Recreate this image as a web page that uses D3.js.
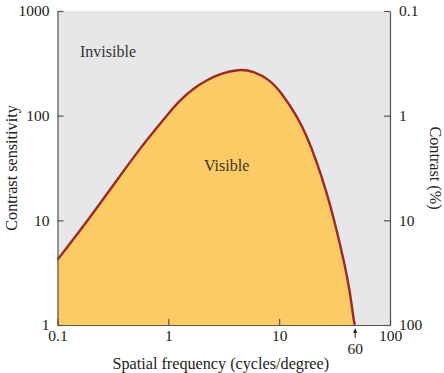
<!DOCTYPE html>
<html>
<head>
<meta charset="utf-8">
<script src="https://cdn.jsdelivr.net/npm/d3@7"></script>
<style>
  body { margin: 0; background: #fff; }
  svg text { font-family: "Liberation Serif", "DejaVu Serif", serif; }
  .axis path, .axis line { stroke: #555; stroke-width: 1.2px; }
  .axis text { font-size: 15.5px; fill: #222; }
</style>
</head>
<body>
<script>
var width = 444;
var height = 373;
var margin = { top: 11, right: 54, bottom: 48, left: 57.5 };

// curve: spatial frequency vs contrast sensitivity
var freq = [0.1, 0.19, 0.38, 0.556, 0.732, 0.968, 1.276, 1.68, 2.22, 2.9, 4.29, 5.85, 8.28, 10.5, 14.4, 17.7, 21.8, 26.9, 31.9, 37.9, 43.6, 47.4, 48.5];
var sens = [4.2, 10.1, 28.1, 48.6, 69.8, 100.4, 141, 182, 219, 250, 279, 267, 219, 165, 100, 64.6, 36.5, 18.4, 9.37, 4.37, 2.09, 1.03, 1];

var xTicks = [0.1, 1, 10, 100];
var yTicks = [1, 10, 100, 1000];
var contrastTicks = [0.1, 1, 10, 100];
var cutoffLabel = '60';

var data = freq.map(function(f, i) { return { f: f, s: sens[i] }; });

var x = d3.scaleLog()
	.domain([0.1, 100])
	.range([margin.left, width - margin.right]);

var y = d3.scaleLog()
	.domain([1, 1000])
	.range([height - margin.bottom, margin.top]);

var y2 = d3.scaleLog()
	.domain([100, 0.1])
	.range([height - margin.bottom, margin.top]);

var svg = d3.select('body').append('svg')
	.attr('width', width)
	.attr('height', height);

// plot background
svg.append('rect')
	.attr('x', x(0.1))
	.attr('y', y(1000))
	.attr('width', x(100) - x(0.1))
	.attr('height', y(1) - y(1000))
	.attr('fill', '#e7e7e9');

var area = d3.area()
	.x(function(d) { return x(d.f); })
	.y0(y(1))
	.y1(function(d) { return y(d.s); })
	.curve(d3.curveBasis);

var line = d3.line()
	.x(function(d) { return x(d.f); })
	.y(function(d) { return y(d.s); })
	.curve(d3.curveBasis);

svg.append('path')
	.datum(data)
	.attr('fill', '#fdcb65')
	.attr('d', area);

svg.append('path')
	.datum(data)
	.attr('fill', 'none')
	.attr('stroke', '#9c2a24')
	.attr('stroke-width', 2.4)
	.attr('d', line);

var fmt = function(d) { return String(d); };

svg.append('g')
	.attr('class', 'axis axis--y')
	.attr('transform', 'translate(' + x(0.1) + ',0)')
	.call(d3.axisLeft(y).tickValues(yTicks).tickFormat(fmt).tickSizeInner(-6).tickSizeOuter(0).tickPadding(8));

svg.append('g')
	.attr('class', 'axis axis--y2')
	.attr('transform', 'translate(' + x(100) + ',0)')
	.call(d3.axisRight(y2).tickValues(contrastTicks).tickFormat(fmt).tickSizeInner(-6).tickSizeOuter(0).tickPadding(9));

svg.append('g')
	.attr('class', 'axis axis--x')
	.attr('transform', 'translate(0,' + y(1) + ')')
	.call(d3.axisBottom(x).tickValues(xTicks).tickFormat(fmt).tickSizeInner(-6).tickSizeOuter(0).tickPadding(5));

// cutoff marker at the end of the curve
var last = data[data.length - 1];
var cx = x(last.f);
var cy = y(1);
svg.append('line')
	.attr('x1', cx).attr('x2', cx)
	.attr('y1', cy + 5).attr('y2', cy + 13)
	.attr('stroke', '#222')
	.attr('stroke-width', 1);
svg.append('path')
	.attr('d', 'M' + (cx - 2) + ',' + (cy + 8) + 'L' + cx + ',' + (cy + 3) + 'L' + (cx + 2) + ',' + (cy + 8) + 'Z')
	.attr('fill', '#222');
svg.append('text')
	.attr('x', cx)
	.attr('y', cy + 29)
	.attr('text-anchor', 'middle')
	.style('font-size', '15.5px')
	.attr('fill', '#222')
	.text(cutoffLabel);

svg.append('text')
	.attr('x', (x(0.1) + x(100)) / 2 - 3)
	.attr('y', 369)
	.attr('text-anchor', 'middle')
	.style('font-size', '16.2px')
	.attr('fill', '#222')
	.text('Spatial frequency (cycles/degree)');

svg.append('text')
	.attr('transform', 'translate(17,168) rotate(-90)')
	.attr('text-anchor', 'middle')
	.style('font-size', '16.2px')
	.attr('fill', '#222')
	.text('Contrast sensitivity');

svg.append('text')
	.attr('transform', 'translate(430,168) rotate(90)')
	.attr('text-anchor', 'middle')
	.style('font-size', '16.2px')
	.attr('fill', '#222')
	.text('Contrast (%)');

svg.append('text')
	.attr('x', 80)
	.attr('y', 57)
	.style('font-size', '16px')
	.attr('fill', '#333')
	.text('Invisible');

svg.append('text')
	.attr('x', 204)
	.attr('y', 171)
	.style('font-size', '16px')
	.attr('fill', '#3d3320')
	.text('Visible');
</script>
</body>
</html>
